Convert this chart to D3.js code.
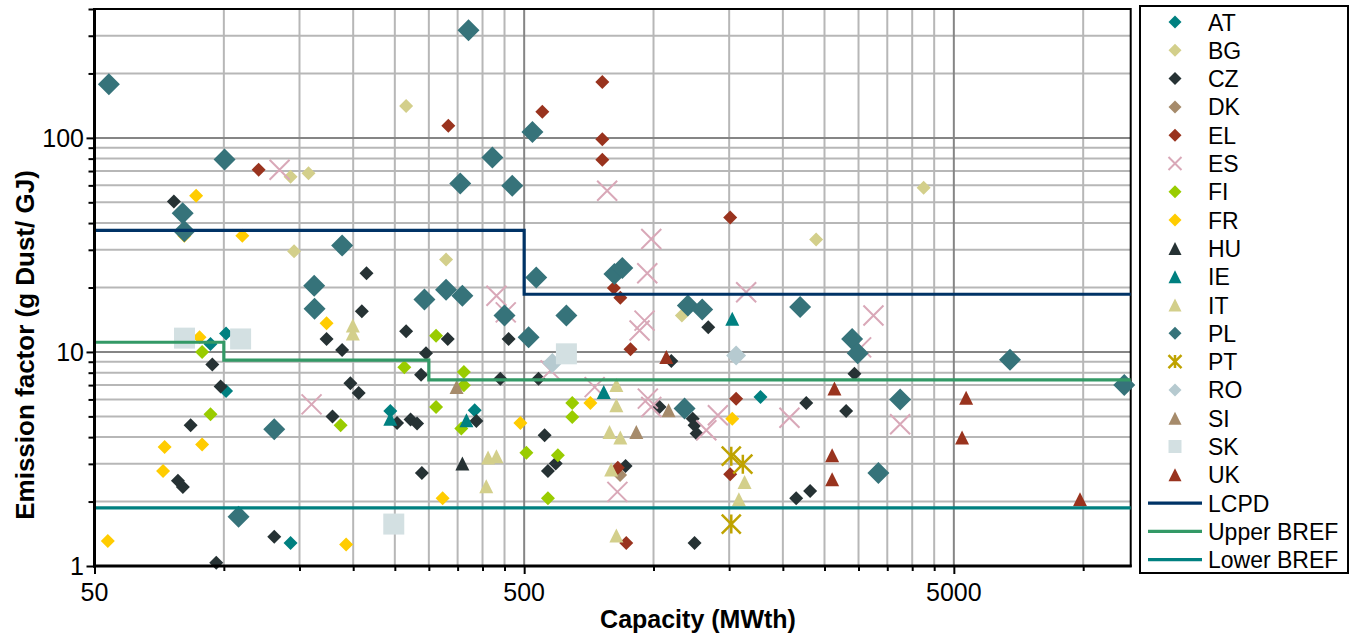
<!DOCTYPE html>
<html><head><meta charset="utf-8">
<script src="https://cdn.jsdelivr.net/npm/d3@7"></script>
<style>
body{margin:0;background:#fff;}
text{font-family:"Liberation Sans",Arial,Helvetica,sans-serif;fill:#000;}
</style>
</head><body>
<svg id="chart" width="1357" height="635"></svg>
<script>
// ---------------- DATA ----------------
const countries = ["AT","BG","CZ","DK","EL","ES","FI","FR","HU","IE","IT","PL","PT","RO","SI","SK","UK"];
const limitNames = ["LCPD","Upper BREF","Lower BREF"];

// [capacity MWth, emission factor g/GJ]
const AT = [[101.2,12.2],[93.1,10.9],[101.2,6.57],[244,5.3],[383.5,5.34],[143,1.28],[1774,6.16]];
const BG = [[265.6,141],[143,65.8],[157.4,68.4],[145.7,29.5],[329,27],[1164,14.8],[2390,33.5],[4253,58.5]];
const CZ = [[76.5,50.5],[214.8,23.3],[209.5,15.5],[173.4,11.5],[188.5,10.2],[265.6,12.5],[332,11.5],[295.5,9.87],
  [287.7,7.83],[94,8.74],[98.3,6.9],[83.7,4.54],[78.2,2.5],[80.3,2.34],[96,1.036],[131,1.37],[179,5.0],[197,7.15],
  [206,6.43],[253,4.66],[272,4.83],[281.6,4.63],[289,2.72],[460,11.5],[440,7.5],[540,7.5],[387,4.76],[558,4.08],
  [592,3.01],[568,2.78],[861,2.93],[1100,9.06],[1341,13.05],[1033,5.53],[1234,4.88],[1246,4.54],[1260,4.16],
  [1246,1.28],[2267,5.77],[2807,5.3],[2935,7.91],[2315,2.24],[2148,2.07]];
const DK = [[836,2.66]];
const EL = [[120.5,71],[333,113.8],[551,132.6],[760,182.4],[760,98.6],[760,79],[1508,42.5],[808.6,19.9],[837,17.9],
  [884,10.3],[1557,6.05],[826,2.88],[864,1.28],[1508,2.68]];
const ES = [[134.8,71],[780,56.6],[988,33.7],[967,23.3],[1643,19.0],[431,18.3],[453,15.3],[953,14.0],[928,12.6],
  [576,8.2],[729.5,6.85],[970,6.05],[988,5.53],[1412,5.06],[1327,4.31],[2072,4.93],[160,5.69],[824,2.22],
  [3250,14.8],[3042,10.5],[3749,4.59]];
const FI = [[89,9.99],[93.1,5.11],[187,4.54],[263,8.49],[311.8,11.9],[311.8,5.53],[362,8.05],[362,6.98],[357,4.39],
  [647,5.77],[647,4.97],[506,3.38],[599,3.29],[568,2.07]];
const FR = [[86.2,53.7],[80.9,34.9],[110.4,34.9],[173.4,13.6],[87.8,11.7],[72.8,3.6],[89,3.69],[72.2,2.78],
  [53.7,1.31],[192.6,1.26],[323,2.07],[490,4.66],[713,5.77],[1525,4.88]];
const HU = [[359,3.01]];
const IE = [[244,4.88],[367,4.79],[766,6.5],[1525,14.3]];
const IT = [[199.6,13.3],[199.6,12.2],[819.5,7.0],[819.5,5.63],[790,4.23],[837,3.98],[412,3.21],[431,3.26],
  [408,2.36],[797,2.82],[819.5,1.39],[1629,2.47],[1580,2.05]];
const PL = [[54,178],[371,318],[522.6,106.6],[421.7,80.9],[355,61.2],[469,59.7],[100.4,79.2],[80.2,44.4],[80.9,36.6],
  [188.5,31.4],[162.3,20.4],[162.6,15.9],[293,17.6],[329,19.5],[359,18.3],[533.5,22.3],[811,23.1],[846,24.7],
  [450,14.8],[627,14.8],[1202,16.5],[1298,15.8],[512,11.7],[131,4.35],[108.2,1.7],[1181,5.44],[2194,16.2],
  [2899,11.5],[2987,9.87],[3749,6.0],[3337,2.72],[6755,9.2],[12460,7.0]];
const PT = [[1517,3.26],[1614,2.99],[1517,1.57]];
const RO = [[581.5,8.87],[1557,9.63]];
const SI = [[348,6.85],[1084,5.34],[912,4.23]];
const SK = [[81,11.6],[109.4,11.5],[627,9.8],[248.6,1.57]];
const UK = [[1071,9.46],[2637,6.74],[2604,3.29],[2604,2.54],[5340,6.11],[5226,3.98],[9830,2.05]];

// limit lines (step lines)
const LCPD = [[50,37],[500,37],[500,18.6],[12900,18.6]];
const upperBREF = [[50,11.1],[100,11.1],[100,9.15],[300,9.15],[300,7.4],[12900,7.4]];
const lowerBREF = [[50,1.87],[12900,1.87]];

// axes
const xDomain = [50, 12900];
const yDomain = [1, 400];
const xTickLabels = [50, 500, 5000];
const yTickLabels = [1, 10, 100];
const xMinorTicks = [100,150,200,250,300,350,400,450,1000,1500,2000,2500,3000,3500,4000,4500,10000];
const yMinorTicks = [2,3,4,5,6,7,8,9,20,30,40,50,60,70,80,90,200,300];
const xTitle = "Capacity (MWth)";
const yTitle = "Emission factor (g Dust/ GJ)";

// ---------------- STYLE ----------------
const seriesData = {AT,BG,CZ,DK,EL,ES,FI,FR,HU,IE,IT,PL,PT,RO,SI,SK,UK};
const limitData = {"LCPD":LCPD,"Upper BREF":upperBREF,"Lower BREF":lowerBREF};
const style = {
  AT:{shape:"diamond",r:7,color:"#008080"},
  BG:{shape:"diamond",r:7,color:"#d3cf8b"},
  CZ:{shape:"diamond",r:7,color:"#263234"},
  DK:{shape:"diamond",r:7,color:"#a68b6b"},
  EL:{shape:"diamond",r:7,color:"#99331e"},
  ES:{shape:"x",r:10,color:"#d9a8b8"},
  FI:{shape:"diamond",r:7,color:"#99cc00"},
  FR:{shape:"diamond",r:7,color:"#ffcc00"},
  HU:{shape:"triangle",r:7,color:"#263234"},
  IE:{shape:"triangle",r:7,color:"#008080"},
  IT:{shape:"triangle",r:7,color:"#d3cf8b"},
  PL:{shape:"diamond",r:11,color:"#36737a"},
  PT:{shape:"star",r:9.5,color:"#bfa300"},
  RO:{shape:"diamond",r:10,color:"#b6cad0"},
  SI:{shape:"triangle",r:7,color:"#a68b6b"},
  SK:{shape:"square",r:10.5,color:"#d3e0e2"},
  UK:{shape:"triangle",r:7,color:"#99331e"}
};
const lineColor = {"LCPD":"#003366","Upper BREF":"#339966","Lower BREF":"#008080"};

function shapePath(shape, r){
  switch(shape){
    case "diamond": return `M0,${-r}L${r},0L0,${r}L${-r},0Z`;
    case "square": return `M${-r},${-r}h${2*r}v${2*r}h${-2*r}Z`;
    case "triangle": return `M0,${-r}L${r},${r}L${-r},${r}Z`;
    case "x": return `M${-r},${-r}L${r},${r}M${-r},${r}L${r},${-r}`;
    case "star": return `M${-r},${-r}L${r},${r}M${-r},${r}L${r},${-r}M0,${-r}L0,${r}`;
  }
}
function applyStyle(sel, st){
  if(st.shape==="x"||st.shape==="star"){
    sel.attr("fill","none").attr("stroke",st.color).attr("stroke-width", st.shape==="star"?2.5:2);
  } else {
    sel.attr("fill",st.color).attr("stroke","none");
  }
}

// ---------------- CHART ----------------
const svg = d3.select("#chart");
const plot = {left:94.5, right:1130.7, top:9, bottom:566};
const x = d3.scaleLog().domain(xDomain).range([plot.left, plot.right]);
const y = d3.scaleLog().domain(yDomain).range([plot.bottom, plot.top]);

svg.append("rect").attr("width",1357).attr("height",635).attr("fill","#fff");

// gridlines
const grid = svg.append("g");
grid.selectAll(".vgm").data(xMinorTicks).enter().append("line")
  .attr("x1",d=>x(d)).attr("x2",d=>x(d)).attr("y1",plot.top).attr("y2",plot.bottom)
  .attr("stroke","#b7b7b7").attr("stroke-width",2);
grid.selectAll(".hgm").data(yMinorTicks).enter().append("line")
  .attr("y1",d=>y(d)).attr("y2",d=>y(d)).attr("x1",plot.left).attr("x2",plot.right)
  .attr("stroke","#b7b7b7").attr("stroke-width",2);
grid.selectAll(".vgM").data(xTickLabels.slice(1)).enter().append("line")
  .attr("x1",d=>x(d)).attr("x2",d=>x(d)).attr("y1",plot.top).attr("y2",plot.bottom)
  .attr("stroke","#858585").attr("stroke-width",2);
grid.selectAll(".hgM").data(yTickLabels.slice(1)).enter().append("line")
  .attr("y1",d=>y(d)).attr("y2",d=>y(d)).attr("x1",plot.left).attr("x2",plot.right)
  .attr("stroke","#858585").attr("stroke-width",2);

// border
svg.append("rect").attr("x",plot.left).attr("y",plot.top)
  .attr("width",plot.right-plot.left).attr("height",plot.bottom-plot.top)
  .attr("fill","none").attr("stroke","#000").attr("stroke-width",2);

// markers
countries.forEach(c=>{
  const st = style[c];
  const g = svg.append("g").attr("class","series-"+c);
  const m = g.selectAll("path").data(seriesData[c]).enter().append("path")
    .attr("d", shapePath(st.shape, st.r))
    .attr("transform", d=>`translate(${x(d[0])},${y(d[1])})`);
  applyStyle(m, st);
});

// limit lines
const line = d3.line().x(d=>x(d[0])).y(d=>y(d[1]));
limitNames.forEach(n=>{
  svg.append("path").datum(limitData[n]).attr("d",line)
    .attr("fill","none").attr("stroke",lineColor[n]).attr("stroke-width",3.2);
});

// axes
const allX = [50].concat(xMinorTicks, xTickLabels.slice(1)).sort((a,b)=>a-b);
const allY = yMinorTicks.concat(yTickLabels).sort((a,b)=>a-b);
const xAxis = svg.append("g").attr("transform",`translate(0,${plot.bottom})`)
  .call(d3.axisBottom(x).tickValues(allX).tickFormat("").tickSizeOuter(0));
xAxis.select(".domain").remove();
xAxis.selectAll(".tick line").attr("stroke","#000").attr("stroke-width",2)
  .attr("y2", d=> xTickLabels.includes(d)?8:5);
const yAxis = svg.append("g").attr("transform",`translate(${plot.left},0)`)
  .call(d3.axisLeft(y).tickValues(allY.concat([400])).tickFormat("").tickSizeOuter(0));
yAxis.select(".domain").remove();
yAxis.selectAll(".tick line").attr("stroke","#000").attr("stroke-width",2)
  .attr("x2", d=> yTickLabels.includes(d)?-8:-6);

svg.append("line").attr("x1",plot.left).attr("x2",plot.left).attr("y1",plot.top-1).attr("y2",plot.bottom+1.5)
  .attr("stroke","#000").attr("stroke-width",3);
svg.append("line").attr("x1",plot.left-1.5).attr("x2",plot.right+1).attr("y1",plot.bottom).attr("y2",plot.bottom)
  .attr("stroke","#000").attr("stroke-width",3);

// tick labels
svg.selectAll(".xl").data(xTickLabels).enter().append("text")
  .attr("x",d=>x(d)).attr("y",601).attr("text-anchor","middle")
  .attr("font-size",25).text(d=>d);
svg.selectAll(".yl").data(yTickLabels).enter().append("text")
  .attr("x",84).attr("y",d=>y(d)+9).attr("text-anchor","end")
  .attr("font-size",25).text(d=>d);

// titles
svg.append("text").attr("x",698).attr("y",628).attr("text-anchor","middle")
  .attr("font-size",25).attr("font-weight","bold").text(xTitle);
svg.append("text").attr("transform","translate(34,345) rotate(-90)").attr("text-anchor","middle")
  .attr("font-size",26).attr("font-weight","bold").text(yTitle);

// legend
const leg = svg.append("g");
leg.append("rect").attr("x",1140).attr("y",6).attr("width",208).attr("height",567)
  .attr("fill","#fff").attr("stroke","#000").attr("stroke-width",2);
const legItems = countries.concat(limitNames);
const legY = i => 22 + i*28.3;
legItems.forEach((name,i)=>{
  const yy = legY(i);
  if(style[name]){
    const st = style[name];
    const p = leg.append("path").attr("d",shapePath(st.shape,6.5)).attr("transform",`translate(1175,${yy})`);
    applyStyle(p, st);
  } else {
    leg.append("line").attr("x1",1148).attr("x2",1202).attr("y1",yy).attr("y2",yy)
      .attr("stroke",lineColor[name]).attr("stroke-width",3.2);
  }
  leg.append("text").attr("x",1208).attr("y",yy+8.5).attr("font-size",23).text(name);
});
</script>
</body></html>
